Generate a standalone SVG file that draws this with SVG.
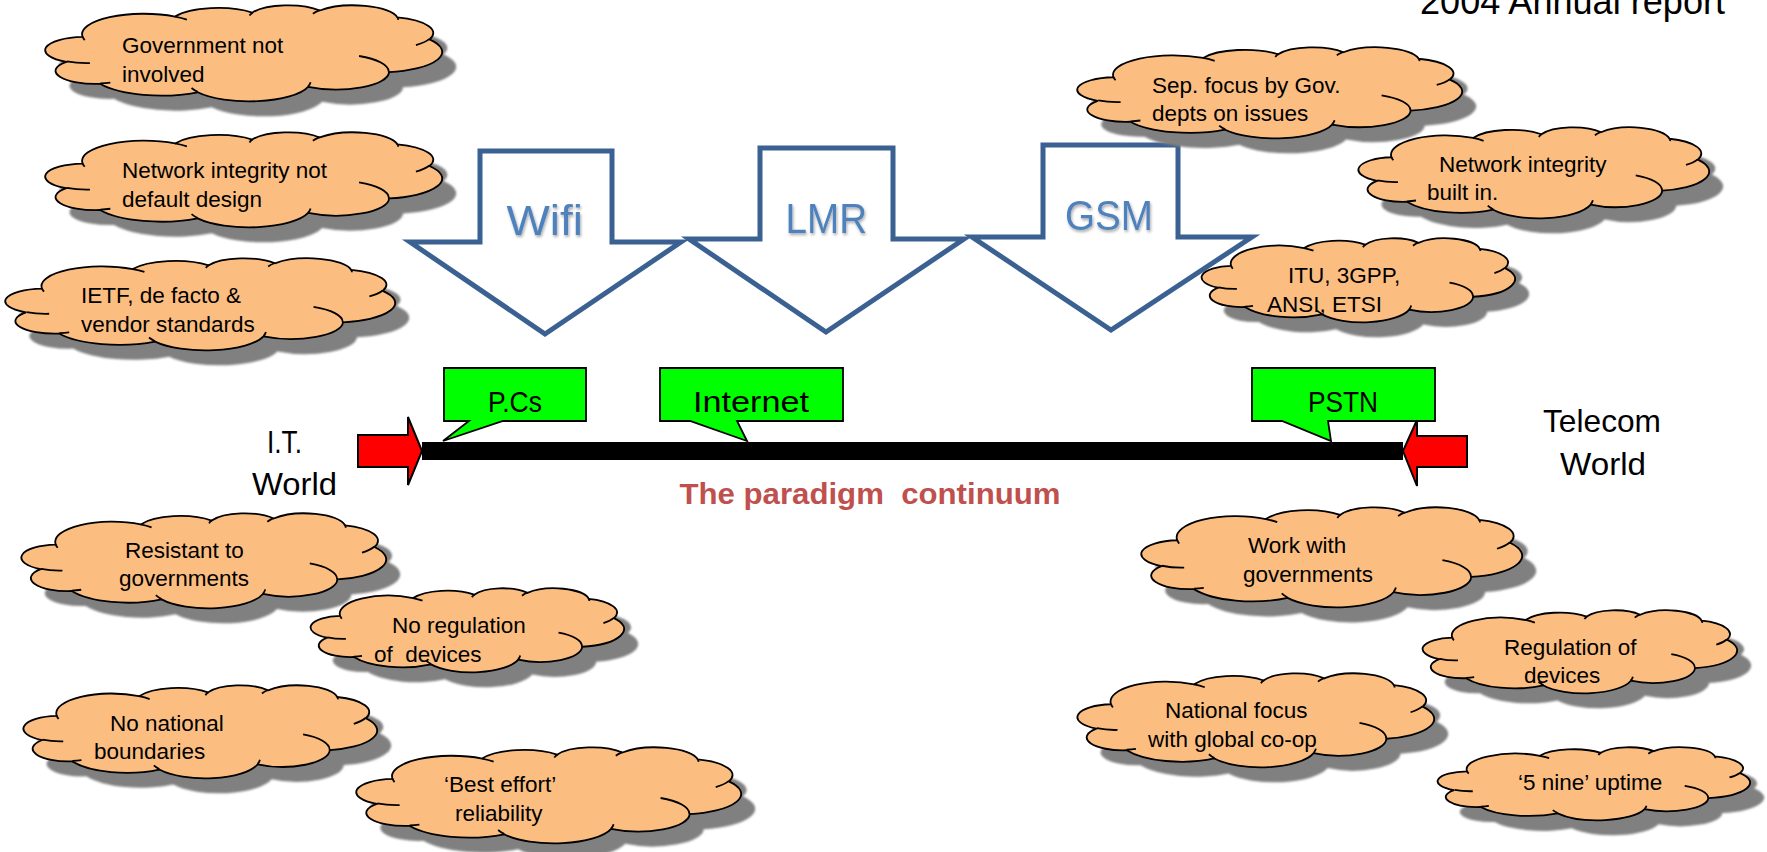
<svg xmlns="http://www.w3.org/2000/svg" xmlns:xlink="http://www.w3.org/1999/xlink" width="1767" height="852" viewBox="0 0 1767 852">
  <style>
    text { font-family: 'Liberation Sans', Arial, sans-serif; fill: #000; }
    .ctext { font-size: 22.5px; }
    .cloud { fill: #FCBE80; stroke: #000; stroke-width: 1.8; }
    .marks { fill: none; stroke: #000; stroke-width: 1.8; }
    .shadow { fill: #808080; stroke: none; }
    .blockarrow { fill: #FFFFFF; stroke: #3B6192; stroke-width: 5; stroke-linejoin: miter; }
    .alabel { font-size: 43px; fill: #4F81BD; }
    .callout { fill: #00FF00; stroke: #000; stroke-width: 1.8; stroke-linejoin: miter; }
    .clabel { font-size: 29px; }
    .redarrow { fill: #FF0000; stroke: #000; stroke-width: 2; stroke-linejoin: miter; }
    .world { font-size: 32px; }
    .pre { white-space: pre; }
  </style>
  <defs>
    <!-- cloud outline in a 100 x 100 box -->
    <path id="cloudShape" vector-effect="non-scaling-stroke" d="M9.028,33.264 A15.632,21.273 0 0 1 32.419,12.042 A12.345,16.822 0 0 1 51.979,7.951 A10.104,13.762 0 0 1 69.058,5.752 A11.243,15.266 0 0 1 88.699,12.921 A12.345,16.836 0 0 1 96.801,35.801 A15.683,21.343 0 0 1 86.586,69.931 A13.391,18.211 0 0 1 66.102,85.231 A15.630,21.331 0 0 1 38.153,90.907 A17.870,24.405 0 0 1 13.435,82.123 A10.093,13.699 0 0 1 4.889,59.160 A10.058,13.762 0 0 1 9.028,33.264 Z"/>
    <!-- inner lobe strokes of the cloud -->
    <path id="cloudMarks" vector-effect="non-scaling-stroke" d="M10.863,60.595 A10.058,13.762 0 0 1 5.000,58.750 M16.037,80.785 A10.093,13.699 0 0 1 13.470,81.669 M38.144,90.486 A15.630,21.331 0 0 1 36.595,86.454 M66.729,80.442 A15.630,21.331 0 0 1 66.111,84.863 M79.002,53.134 A13.391,18.211 0 0 1 86.530,69.653 M96.755,35.542 A12.345,16.836 0 0 1 93.399,41.740 M88.713,12.560 A11.243,15.266 0 0 1 88.889,15.486 M67.310,9.148 A11.243,15.266 0 0 1 69.030,5.412 M51.252,10.926 A10.104,13.762 0 0 1 52.083,7.708 M32.407,12.019 A15.632,21.273 0 0 1 35.419,15.144 M9.553,36.549 A15.632,21.273 0 0 1 9.028,33.266"/>
    <filter id="soft" x="-5%" y="-10%" width="110%" height="120%">
      <feGaussianBlur stdDeviation="1"/>
    </filter>
    <filter id="textShadow" x="-20%" y="-20%" width="140%" height="150%">
      <feGaussianBlur in="SourceAlpha" stdDeviation="1.5"/>
      <feOffset dx="1" dy="2" result="b"/>
      <feComponentTransfer><feFuncA type="linear" slope="0.35"/></feComponentTransfer>
      <feMerge><feMergeNode/><feMergeNode in="SourceGraphic"/></feMerge>
    </filter>
  </defs>

  <rect width="1767" height="852" fill="#FFFFFF"/>

  <text x="1420" y="14" font-size="36" textLength="305" lengthAdjust="spacingAndGlyphs">2004 Annual report</text>

  <!-- down arrows -->
  <g id="arrow-wifi">
    <path class="blockarrow" d="M480,151 H612 V242 H681 L545,334 L410,242 H480 Z"/>
    <text class="alabel" x="506.5" y="235" textLength="76.5" lengthAdjust="spacingAndGlyphs" filter="url(#textShadow)">Wifi</text>
  </g>
  <g id="arrow-lmr">
    <path class="blockarrow" d="M760,148 H893 V239 H964 L826,332 L689,239 H760 Z"/>
    <text class="alabel" x="785.6" y="233" textLength="81.6" lengthAdjust="spacingAndGlyphs" filter="url(#textShadow)">LMR</text>
  </g>
  <g id="arrow-gsm">
    <path class="blockarrow" d="M1043,145 H1178 V237 H1252 L1111,330 L972,237 H1043 Z"/>
    <text class="alabel" x="1065" y="230" textLength="88" lengthAdjust="spacingAndGlyphs" filter="url(#textShadow)">GSM</text>
  </g>

  <!-- the continuum bar with its end arrows -->
  <g id="connectors">
    <rect x="422" y="442" width="981" height="18" fill="#000"/>
    <path class="redarrow" d="M358,435 H408 V417 L422,451 L408,485 V467 H358 Z"/>
    <path class="redarrow" d="M1467,436 H1417 V420 L1403,451 L1417,486 V467 H1467 Z"/>
  </g>

  <g id="callout-pcs">
    <path class="callout" d="M444,368 H586 V421 H503 L443,441 L469,421 H444 Z"/>
    <text class="clabel" x="488" y="412" textLength="54" lengthAdjust="spacingAndGlyphs">P.Cs</text>
  </g>
  <g id="callout-internet">
    <path class="callout" d="M660,368 H843 V421 H737 L747,441 L690,421 H660 Z"/>
    <text class="clabel" x="693" y="412" textLength="116" lengthAdjust="spacingAndGlyphs">Internet</text>
  </g>
  <g id="callout-pstn">
    <path class="callout" d="M1252,368 H1435 V421 H1328 L1331,441 L1282,421 H1252 Z"/>
    <text class="clabel" x="1308" y="412" textLength="70" lengthAdjust="spacingAndGlyphs">PSTN</text>
  </g>

  <g id="label-it">
    <text class="world" x="267" y="453" textLength="35" lengthAdjust="spacingAndGlyphs">I.T.</text>
    <text class="world" x="252" y="495" textLength="85" lengthAdjust="spacingAndGlyphs">World</text>
  </g>
  <g id="label-telecom">
    <text class="world" x="1543" y="432" textLength="118" lengthAdjust="spacingAndGlyphs">Telecom</text>
    <text class="world" x="1560" y="475" textLength="86" lengthAdjust="spacingAndGlyphs">World</text>
  </g>
  <text id="title-continuum" class="pre" x="679.5" y="504" font-size="29" font-weight="bold" fill="#C0504D" style="fill:#C0504D" textLength="381" lengthAdjust="spacingAndGlyphs">The paradigm  continuum</text>

  <!-- clouds: IT side, top -->
  <g id="cloud-gov-not-involved">
    <g filter="url(#soft)"><use xlink:href="#cloudShape" class="shadow" transform="translate(61,20) scale(3.95,0.96)"/></g>
    <use xlink:href="#cloudShape" class="cloud" transform="translate(47,5) scale(3.95,0.96)"/>
    <use xlink:href="#cloudMarks" class="marks" transform="translate(47,5) scale(3.95,0.96)"/>
    <text class="ctext" x="122" y="53">Government not</text>
    <text class="ctext" x="122" y="82">involved</text>
  </g>
  <g id="cloud-integrity-not-default">
    <g filter="url(#soft)"><use xlink:href="#cloudShape" class="shadow" transform="translate(61,147) scale(3.95,0.95)"/></g>
    <use xlink:href="#cloudShape" class="cloud" transform="translate(47,132) scale(3.95,0.95)"/>
    <use xlink:href="#cloudMarks" class="marks" transform="translate(47,132) scale(3.95,0.95)"/>
    <text class="ctext" x="122" y="178">Network integrity not</text>
    <text class="ctext" x="122" y="207">default design</text>
  </g>
  <g id="cloud-ietf">
    <g filter="url(#soft)"><use xlink:href="#cloudShape" class="shadow" transform="translate(21,273) scale(3.88,0.92)"/></g>
    <use xlink:href="#cloudShape" class="cloud" transform="translate(7,258) scale(3.88,0.92)"/>
    <use xlink:href="#cloudMarks" class="marks" transform="translate(7,258) scale(3.88,0.92)"/>
    <text class="ctext" x="81" y="303">IETF, de facto &amp;</text>
    <text class="ctext" x="81" y="332">vendor standards</text>
  </g>

  <!-- clouds: telecom side, top -->
  <g id="cloud-sep-focus">
    <g filter="url(#soft)"><use xlink:href="#cloudShape" class="shadow" transform="translate(1093,62) scale(3.83,0.91)"/></g>
    <use xlink:href="#cloudShape" class="cloud" transform="translate(1079,47) scale(3.83,0.91)"/>
    <use xlink:href="#cloudMarks" class="marks" transform="translate(1079,47) scale(3.83,0.91)"/>
    <text class="ctext" x="1152" y="93">Sep. focus by Gov.</text>
    <text class="ctext" x="1152" y="121">depts on issues</text>
  </g>
  <g id="cloud-integrity-built-in">
    <g filter="url(#soft)"><use xlink:href="#cloudShape" class="shadow" transform="translate(1374,142) scale(3.49,0.91)"/></g>
    <use xlink:href="#cloudShape" class="cloud" transform="translate(1360,127) scale(3.49,0.91)"/>
    <use xlink:href="#cloudMarks" class="marks" transform="translate(1360,127) scale(3.49,0.91)"/>
    <text class="ctext" x="1439" y="172">Network integrity</text>
    <text class="ctext" x="1427" y="200">built in.</text>
  </g>
  <g id="cloud-itu">
    <g filter="url(#soft)"><use xlink:href="#cloudShape" class="shadow" transform="translate(1217,253) scale(3.12,0.84)"/></g>
    <use xlink:href="#cloudShape" class="cloud" transform="translate(1203,238) scale(3.12,0.84)"/>
    <use xlink:href="#cloudMarks" class="marks" transform="translate(1203,238) scale(3.12,0.84)"/>
    <text class="ctext" x="1288" y="283">ITU, 3GPP,</text>
    <text class="ctext" x="1267" y="312">ANSI, ETSI</text>
  </g>

  <!-- clouds: IT side, bottom -->
  <g id="cloud-resistant">
    <g filter="url(#soft)"><use xlink:href="#cloudShape" class="shadow" transform="translate(37,528) scale(3.63,0.95)"/></g>
    <use xlink:href="#cloudShape" class="cloud" transform="translate(23,513) scale(3.63,0.95)"/>
    <use xlink:href="#cloudMarks" class="marks" transform="translate(23,513) scale(3.63,0.95)"/>
    <text class="ctext" x="125" y="558">Resistant to</text>
    <text class="ctext" x="119" y="586">governments</text>
  </g>
  <g id="cloud-no-regulation">
    <g filter="url(#soft)"><use xlink:href="#cloudShape" class="shadow" transform="translate(326,603) scale(3.12,0.84)"/></g>
    <use xlink:href="#cloudShape" class="cloud" transform="translate(312,588) scale(3.12,0.84)"/>
    <use xlink:href="#cloudMarks" class="marks" transform="translate(312,588) scale(3.12,0.84)"/>
    <text class="ctext" x="392" y="633">No regulation</text>
    <text class="ctext pre" x="374" y="662">of  devices</text>
  </g>
  <g id="cloud-no-boundaries">
    <g filter="url(#soft)"><use xlink:href="#cloudShape" class="shadow" transform="translate(39,700) scale(3.52,0.93)"/></g>
    <use xlink:href="#cloudShape" class="cloud" transform="translate(25,685) scale(3.52,0.93)"/>
    <use xlink:href="#cloudMarks" class="marks" transform="translate(25,685) scale(3.52,0.93)"/>
    <text class="ctext" x="110" y="731">No national</text>
    <text class="ctext" x="94" y="759">boundaries</text>
  </g>
  <g id="cloud-best-effort">
    <g filter="url(#soft)"><use xlink:href="#cloudShape" class="shadow" transform="translate(372,762) scale(3.83,0.96)"/></g>
    <use xlink:href="#cloudShape" class="cloud" transform="translate(358,747) scale(3.83,0.96)"/>
    <use xlink:href="#cloudMarks" class="marks" transform="translate(358,747) scale(3.83,0.96)"/>
    <text class="ctext" x="444" y="792">&#8216;Best effort&#8217;</text>
    <text class="ctext" x="455" y="821">reliability</text>
  </g>

  <!-- clouds: telecom side, bottom -->
  <g id="cloud-work-with">
    <g filter="url(#soft)"><use xlink:href="#cloudShape" class="shadow" transform="translate(1157,522) scale(3.79,1.0)"/></g>
    <use xlink:href="#cloudShape" class="cloud" transform="translate(1143,507) scale(3.79,1.0)"/>
    <use xlink:href="#cloudMarks" class="marks" transform="translate(1143,507) scale(3.79,1.0)"/>
    <text class="ctext" x="1248" y="553">Work with</text>
    <text class="ctext" x="1243" y="582">governments</text>
  </g>
  <g id="cloud-regulation">
    <g filter="url(#soft)"><use xlink:href="#cloudShape" class="shadow" transform="translate(1438,625) scale(3.13,0.83)"/></g>
    <use xlink:href="#cloudShape" class="cloud" transform="translate(1424,610) scale(3.13,0.83)"/>
    <use xlink:href="#cloudMarks" class="marks" transform="translate(1424,610) scale(3.13,0.83)"/>
    <text class="ctext" x="1504" y="655">Regulation of</text>
    <text class="ctext" x="1524" y="683">devices</text>
  </g>
  <g id="cloud-national-focus">
    <g filter="url(#soft)"><use xlink:href="#cloudShape" class="shadow" transform="translate(1093,688) scale(3.55,0.94)"/></g>
    <use xlink:href="#cloudShape" class="cloud" transform="translate(1079,673) scale(3.55,0.94)"/>
    <use xlink:href="#cloudMarks" class="marks" transform="translate(1079,673) scale(3.55,0.94)"/>
    <text class="ctext" x="1165" y="718">National focus</text>
    <text class="ctext" x="1148" y="747">with global co-op</text>
  </g>
  <g id="cloud-five-nines">
    <g filter="url(#soft)"><use xlink:href="#cloudShape" class="shadow" transform="translate(1453,762) scale(3.11,0.73)"/></g>
    <use xlink:href="#cloudShape" class="cloud" transform="translate(1439,747) scale(3.11,0.73)"/>
    <use xlink:href="#cloudMarks" class="marks" transform="translate(1439,747) scale(3.11,0.73)"/>
    <text class="ctext" x="1518" y="790">&#8216;5 nine&#8217; uptime</text>
  </g>
</svg>
